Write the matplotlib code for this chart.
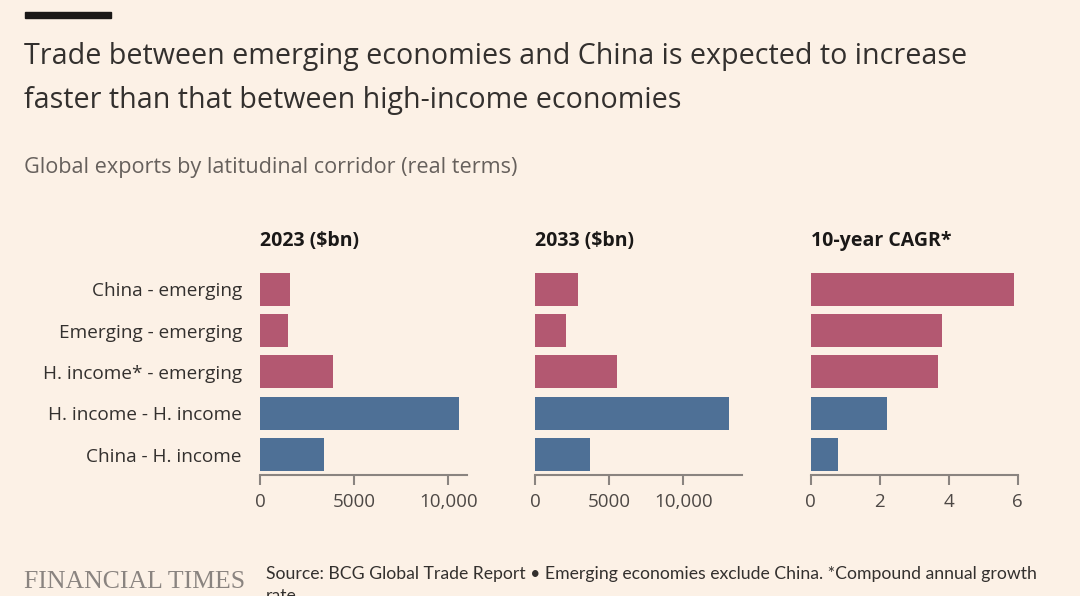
import matplotlib
matplotlib.use("Agg")
import matplotlib.pyplot as plt
from matplotlib.patches import Rectangle

# ---- data ----
categories = ["China - emerging", "Emerging - emerging", "H. income* - emerging",
              "H. income - H. income", "China - H. income"]
exports_2023 = [1600, 1500, 3900, 10600, 3400]
exports_2033 = [2900, 2100, 5500, 13100, 3700]
cagr_10y = [5.9, 3.8, 3.7, 2.2, 0.8]
bar_colors = ["#b35871", "#b35871", "#b35871", "#4e7096", "#4e7096"]
panel_titles = ["2023 ($bn)", "2033 ($bn)", "10-year CAGR*"]
panel_ticks = [[0, 5000, 10000], [0, 5000, 10000], [0, 2, 4, 6]]
panel_ticklabels = [["0", "5000", "10,000"], ["0", "5000", "10,000"], ["0", "2", "4", "6"]]
panel_xlim = [(0, 11000), (0, 14000), (0, 6)]

W, H = 1080, 596
BG = "#fcf1e6"
FONT = ["Open Sans", "DejaVu Sans"]
FONT2 = ["Lato", "DejaVu Sans"]

fig = plt.figure(figsize=(W / 100, H / 100), dpi=100, facecolor=BG)

def fx(px):
    return px / W

def fy(py):
    return 1 - py / H

# top black bar
fig.patches.append(Rectangle((fx(25), fy(18)), fx(111) - fx(25), fy(12) - fy(18),
                             transform=fig.transFigure, color="#1a1817", zorder=5))

fig.text(fx(24), fy(64), "Trade between emerging economies and China is expected to increase",
         fontsize=20.6, color="#33302e", va="baseline", ha="left", family=FONT)
fig.text(fx(24), fy(108), "faster than that between high-income economies",
         fontsize=20.6, color="#33302e", va="baseline", ha="left", family=FONT)
fig.text(fx(24), fy(173), "Global exports by latitudinal corridor (real terms)",
         fontsize=15.6, color="#66605c", va="baseline", ha="left", family=FONT)

series = [exports_2023, exports_2033, cagr_10y]
lefts = [260, 535.3, 810.7]
top_px, bot_px = 268.6, 475.3
axw = 207

for i, (vals, left) in enumerate(zip(series, lefts)):
    ax = fig.add_axes([fx(left), fy(bot_px), axw / W, (bot_px - top_px) / H])
    ax.set_facecolor("none")
    y = list(range(len(categories)))
    ax.barh(y, vals, height=0.8, color=bar_colors)
    ax.set_ylim(len(categories) - 0.5, -0.5)
    ax.set_xlim(*panel_xlim[i])
    for s in ["top", "right", "left"]:
        ax.spines[s].set_visible(False)
    ax.spines["bottom"].set_color("#8a8480")
    ax.spines["bottom"].set_linewidth(1.5)
    ax.set_xticks(panel_ticks[i])
    ax.set_xticklabels(panel_ticklabels[i], family=FONT, fontsize=13.5, color="#4d4845")
    ax.tick_params(axis="x", length=7, width=1.5, color="#8a8480", pad=6)
    if i == 0:
        ax.set_yticks(y)
        ax.set_yticklabels(categories, family=FONT, fontsize=13.7, color="#33302e")
        ax.tick_params(axis="y", length=0, pad=13)
    else:
        ax.set_yticks([])
    fig.text(fx(left), fy(246), panel_titles[i], fontsize=14, fontweight="bold",
             color="#1a1817", va="baseline", ha="left", family=FONT)

fig.text(fx(24), fy(582), "FINANCIAL TIMES", fontsize=18.5, color="#8a8480",
         va="center", ha="left", family=["Liberation Serif", "DejaVu Serif"])
fig.text(fx(266), fy(574),
         "Source: BCG Global Trade Report \u2022 Emerging economies exclude China. *Compound annual growth",
         fontsize=12.7, color="#33302e", va="center", ha="left", family=FONT2)
fig.text(fx(266), fy(596), "rate", fontsize=12.7, color="#33302e", va="center", ha="left", family=FONT2)

fig.savefig("out.png", dpi=100, facecolor=BG)
